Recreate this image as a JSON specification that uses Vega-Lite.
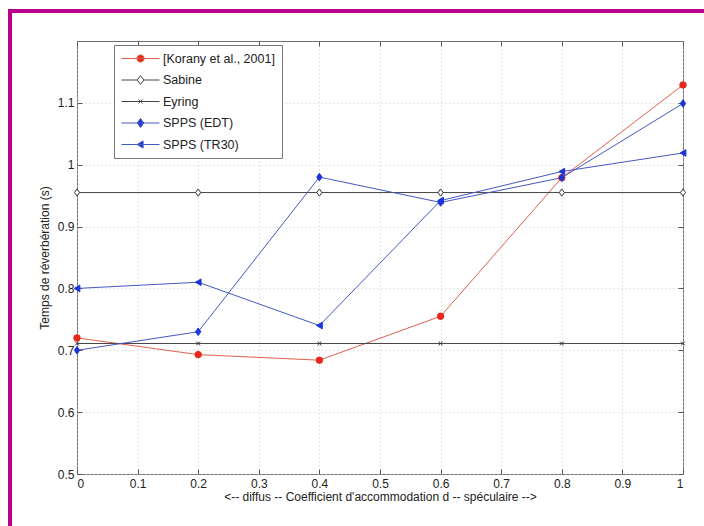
{
  "$schema": "https://vega.github.io/schema/vega-lite/v6.json",
  "width": 606,
  "height": 433,
  "autosize": {"type": "none"},
  "padding": {"left": 77, "top": 41, "right": 21, "bottom": 52},
  "background": "white",
  "config": {
    "font": "Liberation Sans",
    "view": {"stroke": "#6e6e6e", "strokeWidth": 1},
    "axis": {
      "labelFont": "Liberation Sans", "labelFontSize": 12, "labelColor": "#222",
      "titleFont": "Liberation Sans", "titleFontSize": 12, "titleFontWeight": "normal", "titleColor": "#222",
      "domain": false, "tickColor": "#555", "tickSize": -5, "labelPadding": 9,
      "gridColor": "#cccccc", "gridDash": [1, 3]
    }
  },
  "data": {"values": [
    {"x": 0, "y": 0.72, "series": "[Korany et al., 2001]"},
    {"x": 0.2, "y": 0.693, "series": "[Korany et al., 2001]"},
    {"x": 0.4, "y": 0.684, "series": "[Korany et al., 2001]"},
    {"x": 0.6, "y": 0.755, "series": "[Korany et al., 2001]"},
    {"x": 0.8, "y": 0.979, "series": "[Korany et al., 2001]"},
    {"x": 1, "y": 1.129, "series": "[Korany et al., 2001]"},
    {"x": 0, "y": 0.955, "series": "Sabine"},
    {"x": 0.2, "y": 0.955, "series": "Sabine"},
    {"x": 0.4, "y": 0.955, "series": "Sabine"},
    {"x": 0.6, "y": 0.955, "series": "Sabine"},
    {"x": 0.8, "y": 0.955, "series": "Sabine"},
    {"x": 1, "y": 0.955, "series": "Sabine"},
    {"x": 0, "y": 0.711, "series": "Eyring"},
    {"x": 0.2, "y": 0.711, "series": "Eyring"},
    {"x": 0.4, "y": 0.711, "series": "Eyring"},
    {"x": 0.6, "y": 0.711, "series": "Eyring"},
    {"x": 0.8, "y": 0.711, "series": "Eyring"},
    {"x": 1, "y": 0.711, "series": "Eyring"},
    {"x": 0, "y": 0.70, "series": "SPPS (EDT)"},
    {"x": 0.2, "y": 0.73, "series": "SPPS (EDT)"},
    {"x": 0.4, "y": 0.98, "series": "SPPS (EDT)"},
    {"x": 0.6, "y": 0.939, "series": "SPPS (EDT)"},
    {"x": 0.8, "y": 0.979, "series": "SPPS (EDT)"},
    {"x": 1, "y": 1.099, "series": "SPPS (EDT)"},
    {"x": 0, "y": 0.80, "series": "SPPS (TR30)"},
    {"x": 0.2, "y": 0.81, "series": "SPPS (TR30)"},
    {"x": 0.4, "y": 0.74, "series": "SPPS (TR30)"},
    {"x": 0.6, "y": 0.942, "series": "SPPS (TR30)"},
    {"x": 0.8, "y": 0.989, "series": "SPPS (TR30)"},
    {"x": 1, "y": 1.019, "series": "SPPS (TR30)"}
  ]},
  "layer": [
    {
      "mark": {"type": "line", "strokeWidth": 1, "clip": true},
      "encoding": {
        "x": {"field": "x", "type": "quantitative",
          "scale": {"domain": [0, 1], "nice": false, "zero": false},
          "axis": {"orient": "bottom", "values": [0, 0.1, 0.2, 0.3, 0.4, 0.5, 0.6, 0.7, 0.8, 0.9, 1], "format": "~g",
            "title": "<-- diffus -- Coefficient d'accommodation d -- spéculaire -->", "titlePadding": 2, "labelPadding": 9}},
        "y": {"field": "y", "type": "quantitative",
          "scale": {"domain": [0.5, 1.2], "nice": false, "zero": false},
          "axis": {"orient": "left", "values": [0.5, 0.6, 0.7, 0.8, 0.9, 1, 1.1], "format": "~g",
            "title": "Temps de réverbération (s)", "titlePadding": 6, "labelPadding": 8}},
        "color": {"field": "series", "type": "nominal",
          "scale": {"domain": ["[Korany et al., 2001]", "Sabine", "Eyring", "SPPS (EDT)", "SPPS (TR30)"],
                    "range": ["#e0604c", "#444444", "#444444", "#4459c0", "#4459c0"]},
          "legend": {
            "orient": "none", "legendX": 37, "legendY": 4, "title": null,
            "symbolSize": 144, "symbolStrokeWidth": 1, "labelFont": "Liberation Sans", "labelFontSize": 12.5,
            "labelColor": "#222", "labelOffset": 29, "padding": 7, "rowPadding": 8.5,
            "strokeColor": "#777", "fillColor": "white",
            "encode": {"symbols": {"update": {
              "shape": {"signal": "datum.value === '[Korany et al., 2001]' ? 'M-1,0H5.33M2.77,0A0.6,0.6 0 1,1 1.57,0A0.6,0.6 0 1,1 2.77,0Z' : datum.value === 'Sabine' ? 'M-1,0H1.62M2.72,0H5.33M2.17,-0.75L2.72,0L2.17,0.75L1.62,0Z' : datum.value === 'Eyring' ? 'M-1,0H5.33M1.84,-0.33L2.5,0.33M1.84,0.33L2.5,-0.33' : datum.value === 'SPPS (EDT)' ? 'M-1,0H5.33M2.17,-0.75L2.72,0L2.17,0.75L1.62,0Z' : 'M-1,0H5.33M1.6,0L2.6,-0.6L2.6,0.6Z'"},
              "fill": {"signal": "datum.value === '[Korany et al., 2001]' ? '#e8281a' : datum.value === 'Sabine' ? 'white' : datum.value === 'Eyring' ? 'transparent' : '#1a35d8'"},
              "stroke": {"signal": "datum.value === '[Korany et al., 2001]' ? '#e0604c' : datum.value === 'Sabine' || datum.value === 'Eyring' ? '#444444' : '#3a52c8'"},
              "size": {"value": 144},
              "strokeWidth": {"value": 1}
            }}}
          }}
      }
    },
    {
      "transform": [{"filter": "datum.series === '[Korany et al., 2001]'"}],
      "mark": {"type": "point", "shape": "circle", "filled": true, "fill": "#e8281a", "stroke": "#e8281a", "strokeWidth": 1, "size": 42, "opacity": 1, "clip": false},
      "encoding": {
        "x": {"field": "x", "type": "quantitative", "axis": null},
        "y": {"field": "y", "type": "quantitative", "axis": null}
      }
    },
    {
      "transform": [{"filter": "datum.series === 'Sabine'"}],
      "mark": {"type": "point", "shape": "M0,-1.2L0.85,0L0,1.2L-0.85,0Z", "filled": true, "fill": "white", "stroke": "#333333", "strokeWidth": 1, "size": 36, "opacity": 1, "clip": false},
      "encoding": {
        "x": {"field": "x", "type": "quantitative", "axis": null},
        "y": {"field": "y", "type": "quantitative", "axis": null}
      }
    },
    {
      "transform": [{"filter": "datum.series === 'Eyring'"}],
      "mark": {"type": "point", "shape": "M-1,-1L1,1M-1,1L1,-1", "filled": false, "stroke": "#333333", "strokeWidth": 1, "size": 14, "opacity": 1, "clip": false},
      "encoding": {
        "x": {"field": "x", "type": "quantitative", "axis": null},
        "y": {"field": "y", "type": "quantitative", "axis": null}
      }
    },
    {
      "transform": [{"filter": "datum.series === 'SPPS (EDT)'"}],
      "mark": {"type": "point", "shape": "M0,-1.2L0.85,0L0,1.2L-0.85,0Z", "filled": true, "fill": "#1a35d8", "stroke": "#1a35d8", "strokeWidth": 1, "size": 40, "opacity": 1, "clip": false},
      "encoding": {
        "x": {"field": "x", "type": "quantitative", "axis": null},
        "y": {"field": "y", "type": "quantitative", "axis": null}
      }
    },
    {
      "transform": [{"filter": "datum.series === 'SPPS (TR30)'"}],
      "mark": {"type": "point", "shape": "triangle-left", "filled": true, "fill": "#1a35d8", "stroke": "#1a35d8", "strokeWidth": 1, "size": 44, "opacity": 1, "clip": false},
      "encoding": {
        "x": {"field": "x", "type": "quantitative", "axis": null},
        "y": {"field": "y", "type": "quantitative", "axis": null}
      }
    },
    {
      "mark": {"type": "rect", "fillOpacity": 0, "stroke": "#b8008a", "strokeWidth": 3, "clip": false},
      "encoding": {
        "x": {"datum": -0.110, "type": "quantitative",
          "axis": {"orient": "top", "values": [0, 0.1, 0.2, 0.3, 0.4, 0.5, 0.6, 0.7, 0.8, 0.9, 1], "labels": false, "grid": false, "title": null}},
        "x2": {"datum": 1.08},
        "y": {"datum": 1.2485, "type": "quantitative",
          "axis": {"orient": "right", "values": [0.5, 0.6, 0.7, 0.8, 0.9, 1, 1.1], "labels": false, "grid": false, "title": null}},
        "y2": {"datum": 0.38}
      }
    }
  ],
  "resolve": {"axis": {"x": "independent", "y": "independent"}}
}
